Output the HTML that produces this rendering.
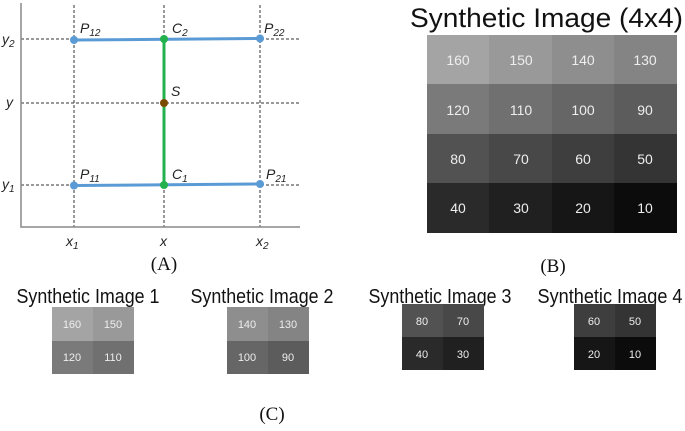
<!DOCTYPE html>
<html><head><style>body{margin:0;background:#fff}svg{display:block}</style></head><body>
<svg width="685" height="431" viewBox="0 0 685 431" xmlns="http://www.w3.org/2000/svg" font-family="Liberation Sans, sans-serif">
<g stroke="#333" stroke-width="1" stroke-dasharray="3,2">
<line x1="74" y1="5" x2="74" y2="227"/><line x1="164" y1="5" x2="164" y2="227"/><line x1="260" y1="5" x2="260" y2="227"/>
<line x1="21" y1="39" x2="300" y2="39"/><line x1="21" y1="103" x2="300" y2="103"/><line x1="21" y1="185" x2="300" y2="185"/>
</g>
<polyline points="21,3 21,227 300,227" fill="none" stroke="#888" stroke-width="1.5"/>
<line x1="74" y1="40" x2="260" y2="38.5" stroke="#5b9bd5" stroke-width="3"/>
<line x1="74" y1="185.5" x2="260" y2="184" stroke="#5b9bd5" stroke-width="3"/>
<line x1="164" y1="39" x2="164" y2="185" stroke="#22b14c" stroke-width="3"/>
<g fill="#5b9bd5"><circle cx="74" cy="40" r="4"/><circle cx="260" cy="38.5" r="4"/><circle cx="74" cy="185.5" r="4"/><circle cx="260" cy="184" r="4"/></g>
<g fill="#22b14c"><circle cx="164" cy="39" r="4"/><circle cx="164" cy="185" r="4"/></g>
<circle cx="164" cy="103" r="4" fill="#7a4a00"/>
<g font-style="italic" font-size="14" fill="#222">
<text x="80" y="33">P<tspan font-size="10" dy="3">12</tspan></text>
<text x="172" y="33">C<tspan font-size="10" dy="3">2</tspan></text>
<text x="264" y="33">P<tspan font-size="10" dy="3">22</tspan></text>
<text x="171" y="96">S</text>
<text x="80" y="179">P<tspan font-size="10" dy="3">11</tspan></text>
<text x="172" y="179">C<tspan font-size="10" dy="3">1</tspan></text>
<text x="266" y="179">P<tspan font-size="10" dy="3">21</tspan></text>
<text x="2" y="44">y<tspan font-size="10" dy="3">2</tspan></text>
<text x="6" y="107">y</text>
<text x="2" y="189">y<tspan font-size="10" dy="3">1</tspan></text>
<text x="66" y="246">x<tspan font-size="10" dy="3">1</tspan></text>
<text x="160" y="246">x</text>
<text x="256" y="246">x<tspan font-size="10" dy="3">2</tspan></text>
</g>
<g font-family="Liberation Serif, serif" font-size="19" fill="#111" text-anchor="middle">
<text x="164" y="270">(A)</text><text x="553" y="272">(B)</text><text x="272" y="420">(C)</text>
</g>
<text x="410" y="27" font-size="27" textLength="273" lengthAdjust="spacingAndGlyphs" fill="#111">Synthetic Image (4x4)</text>
<g font-size="14" fill="#eee" text-anchor="middle">
<rect x="427" y="35" width="63" height="50" fill="#a4a4a4"/><rect x="489" y="35" width="63" height="50" fill="#999"/><rect x="552" y="35" width="63" height="50" fill="#8e8e8e"/><rect x="614" y="35" width="63" height="50" fill="#848484"/>
<rect x="427" y="84" width="63" height="50" fill="#7a7a7a"/><rect x="489" y="84" width="63" height="50" fill="#707070"/><rect x="552" y="84" width="63" height="50" fill="#666"/><rect x="614" y="84" width="63" height="50" fill="#5c5c5c"/>
<rect x="427" y="134" width="63" height="50" fill="#525252"/><rect x="489" y="134" width="63" height="50" fill="#484848"/><rect x="552" y="134" width="63" height="50" fill="#3e3e3e"/><rect x="614" y="134" width="63" height="50" fill="#343434"/>
<rect x="427" y="183" width="63" height="50" fill="#2a2a2a"/><rect x="489" y="183" width="63" height="50" fill="#202020"/><rect x="552" y="183" width="63" height="50" fill="#161616"/><rect x="614" y="183" width="63" height="50" fill="#0c0c0c"/>
<text x="458" y="65">160</text><text x="521" y="65">150</text><text x="583" y="65">140</text><text x="645" y="65">130</text>
<text x="458" y="115">120</text><text x="521" y="115">110</text><text x="583" y="115">100</text><text x="645" y="115">90</text>
<text x="458" y="164">80</text><text x="521" y="164">70</text><text x="583" y="164">60</text><text x="645" y="164">50</text>
<text x="458" y="213">40</text><text x="521" y="213">30</text><text x="583" y="213">20</text><text x="645" y="213">10</text>
</g>
<g font-size="20" fill="#111" text-anchor="middle">
<text x="88" y="303" textLength="143" lengthAdjust="spacingAndGlyphs">Synthetic Image 1</text><text x="88" y="327">(2x2)</text>
<text x="262" y="303" textLength="143" lengthAdjust="spacingAndGlyphs">Synthetic Image 2</text><text x="262" y="327">(2x2)</text>
<text x="440" y="303" textLength="143" lengthAdjust="spacingAndGlyphs">Synthetic Image 3</text><text x="440" y="327">(2x2)</text>
<text x="610" y="303" textLength="145" lengthAdjust="spacingAndGlyphs">Synthetic Image 4</text><text x="610" y="327">(2x2)</text>
</g>
<g font-size="11" fill="#eee" text-anchor="middle">
<rect x="52" y="307" width="41" height="34" fill="#a4a4a4"/><rect x="93" y="307" width="41" height="34" fill="#999"/><rect x="52" y="341" width="41" height="33" fill="#7a7a7a"/><rect x="93" y="341" width="41" height="33" fill="#707070"/>
<text x="72" y="328">160</text><text x="113" y="328">150</text><text x="72" y="361">120</text><text x="113" y="361">110</text>
<rect x="227" y="307" width="41" height="34" fill="#8e8e8e"/><rect x="268" y="307" width="41" height="34" fill="#848484"/><rect x="227" y="341" width="41" height="33" fill="#666"/><rect x="268" y="341" width="41" height="33" fill="#5c5c5c"/>
<text x="247" y="328">140</text><text x="288" y="328">130</text><text x="247" y="361">100</text><text x="288" y="361">90</text>
<rect x="402" y="304" width="41" height="33" fill="#525252"/><rect x="443" y="304" width="41" height="33" fill="#484848"/><rect x="402" y="337" width="41" height="33" fill="#2a2a2a"/><rect x="443" y="337" width="41" height="33" fill="#202020"/>
<text x="422" y="325">80</text><text x="463" y="325">70</text><text x="422" y="358">40</text><text x="463" y="358">30</text>
<rect x="574" y="304" width="41" height="33" fill="#3e3e3e"/><rect x="615" y="304" width="41" height="33" fill="#343434"/><rect x="574" y="337" width="41" height="33" fill="#161616"/><rect x="615" y="337" width="41" height="33" fill="#0c0c0c"/>
<text x="594" y="325">60</text><text x="635" y="325">50</text><text x="594" y="358">20</text><text x="635" y="358">10</text>
</g>
</svg>
</body></html>
